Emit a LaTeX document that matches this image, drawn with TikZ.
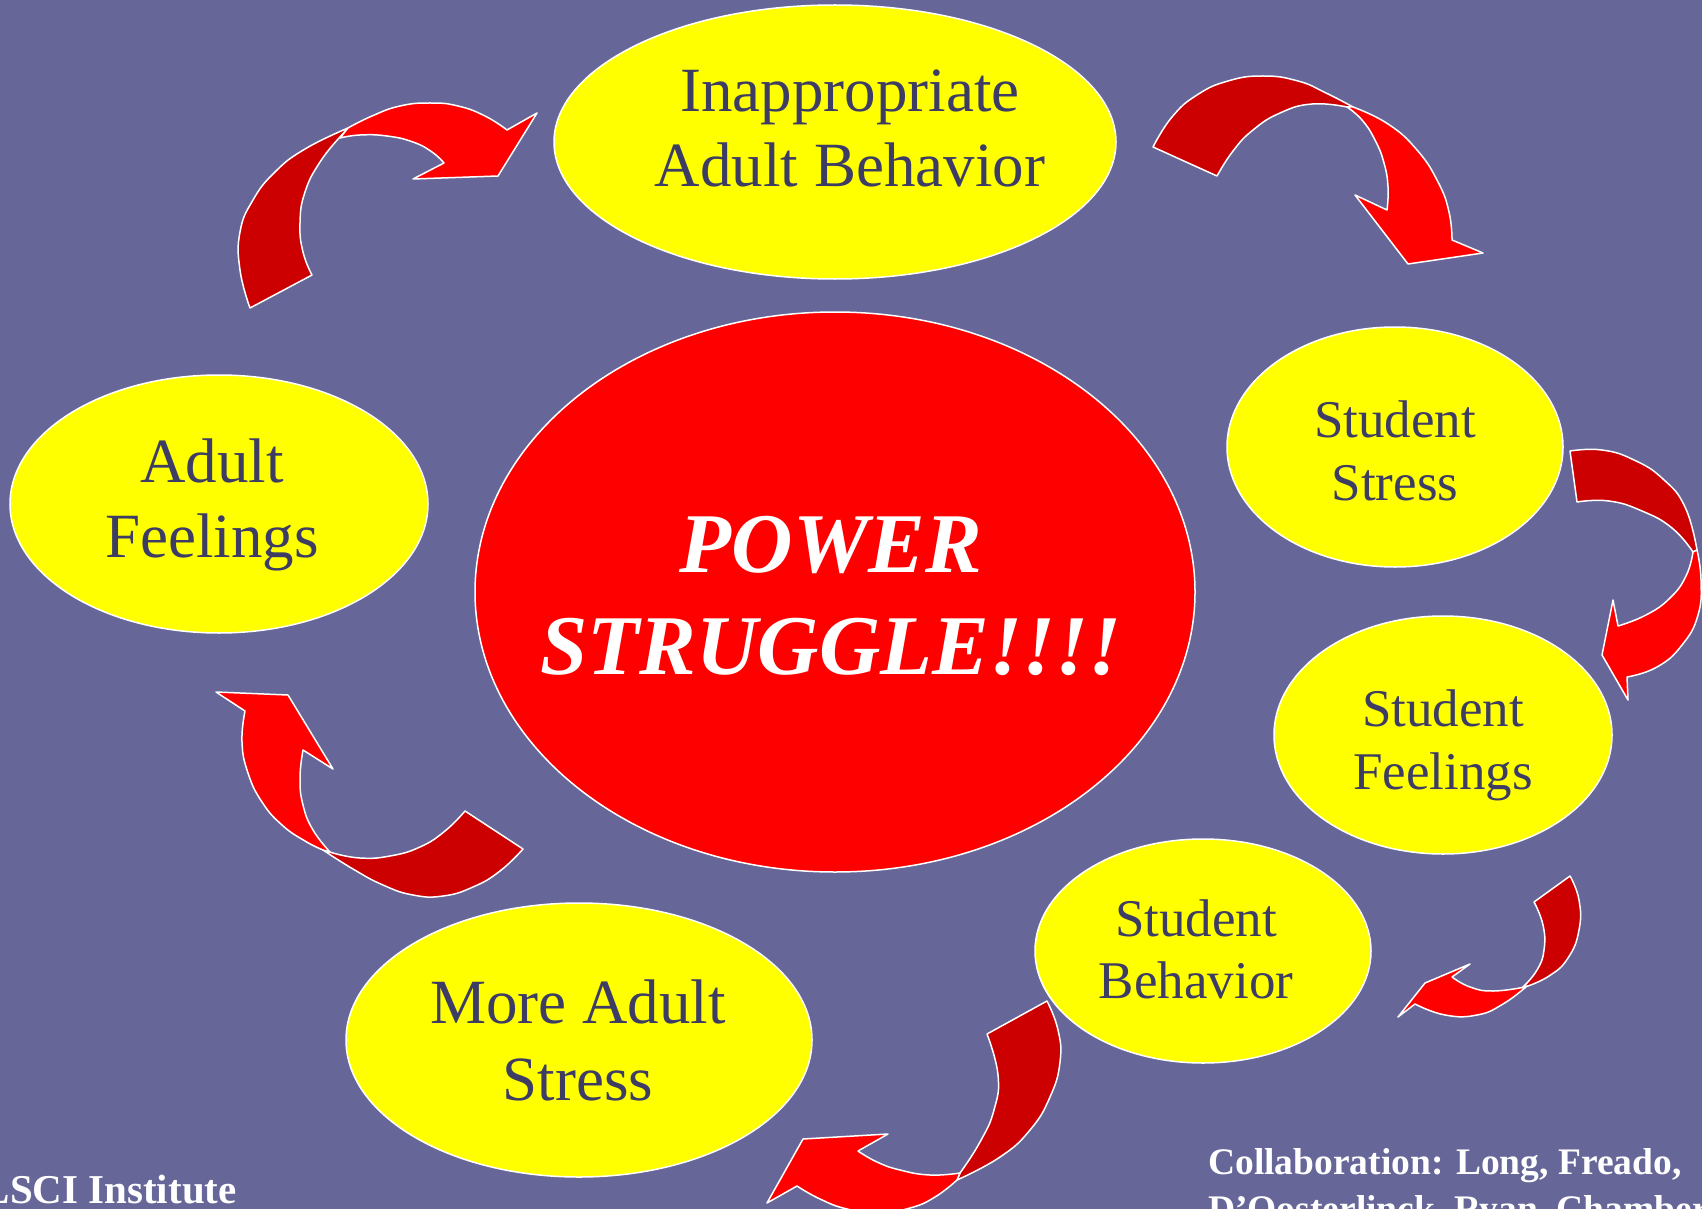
\documentclass[tikz,border=0pt]{standalone}
\usepackage{fontspec}
\setmainfont{Liberation Serif}
\usetikzlibrary{shapes.geometric}
\definecolor{bg}{RGB}{102,102,153}
\definecolor{txt}{RGB}{60,60,100}
\definecolor{darkred}{RGB}{204,0,0}
\definecolor{brightred}{RGB}{255,0,0}
\definecolor{yel}{RGB}{255,255,0}
\tikzset{
  bubble/.style={ellipse, fill=yel, draw=white, line width=1.5, inner sep=0pt},
  hub/.style={ellipse, fill=brightred, draw=white, line width=1.5, inner sep=0pt},
  bigtxt/.style={anchor=base, inner sep=0pt, text=txt, font=\fontsize{63}{76}\selectfont},
  smalltxt/.style={anchor=base, inner sep=0pt, text=txt, font=\fontsize{53}{63}\selectfont},
  hubtxt/.style={anchor=base, inner sep=0pt, text=white, font=\fontsize{85}{102}\selectfont\bfseries\itshape},
  credit/.style={anchor=base west, inner sep=0pt, text=white, font=\fontsize{37.5}{47}\selectfont\bfseries},
  arrowfront/.style={fill=brightred, draw=white, line width=1.5, line join=round},
  arrowback/.style={fill=darkred, draw=white, line width=1.5, line join=round},
  sm/.style={smooth, tension=0.8}
}
\begin{document}
\begin{tikzpicture}[x=1pt,y=-1pt]
\useasboundingbox (0,0) rectangle (1702,1209);
\clip (0,0) rectangle (1702,1209);
\fill[bg] (0,0) rectangle (1702,1209);

% ellipses
\node[bubble, minimum width=562, minimum height=274] (iab) at (835,142) {};
\node[bubble, minimum width=336, minimum height=240] (sst) at (1395,447) {};
\node[bubble, minimum width=338, minimum height=238] (sfe) at (1443,735) {};
\node[bubble, minimum width=336, minimum height=224] (sbe) at (1203,951) {};
\node[bubble, minimum width=466, minimum height=274] (mas) at (579,1040) {};
\node[bubble, minimum width=418, minimum height=258] (afe) at (219,504) {};
\node[hub, minimum width=720, minimum height=560] (ps) at (835,592) {};

% texts
\node[bigtxt] (t1a) at (850,112) {Inappropriate};
\node[bigtxt] (t1b) at (850,187) {Adult Behavior};
\node[smalltxt] (t2a) at (1395,437) {Student};
\node[smalltxt] (t2b) at (1395,500) {Stress};
\node[smalltxt] (t3a) at (1443,726) {Student};
\node[smalltxt] (t3b) at (1443,789) {Feelings};
\node[smalltxt] (t4a) at (1196,936) {Student};
\node[smalltxt] (t4b) at (1196,998) {Behavior};
\node[bigtxt] (t5a) at (578,1023) {More Adult};
\node[bigtxt] (t5b) at (578,1100) {Stress};
\node[bigtxt] (t6a) at (212,482) {Adult};
\node[bigtxt] (t6b) at (212,557) {Feelings};
\node[hubtxt] (t7a) at (831,572) {POWER};
\node[hubtxt] (t7b) at (831,674) {STRUGGLE!!!!};
\node[credit, font=\fontsize{41}{47}\selectfont\bfseries] (lsci) at (-17.5,1203) {LSCI Institute};
\node[credit] (col1) at (1208,1174) {Collaboration: Long, Freado,};
\node[credit] (col2) at (1208,1221) {D’Oosterlinck, Ryan, Chambers};

% arrow 1 (Adult Feelings -> Inappropriate Adult Behavior)
\path[arrowback] plot[sm] coordinates {(250,308) (240,270) (240,232) (253,200) (275,172) (305,149) (348,128)}
  -- plot[sm] coordinates {(340,137) (320,162) (305,192) (300,223) (303,252) (312,275)} -- cycle;
\path[arrowfront] plot[sm] coordinates {(340,138) (360,135) (387,136) (413,142) (432,152) (444,163)}
  -- (413,179) -- (498,176) -- (537,113)
  -- plot[sm] coordinates {(507,130) (485,116) (458,106) (430,103) (400,106) (372,116) (348,128)} -- cycle;

% arrow 2 (Inappropriate -> Student Stress)
\path[arrowback] plot[sm] coordinates {(1153,147) (1172,117) (1197,95) (1228,81) (1263,76) (1298,81) (1326,93) (1353,107)}
  -- plot[sm] coordinates {(1347,107) (1312,104) (1280,113) (1253,130) (1233,151) (1217,176)} -- cycle;
\path[arrowfront] plot[sm] coordinates {(1347,107) (1362,120) (1375,140) (1384,163) (1388,187) (1387,210)}
  -- (1355,195) -- (1408,264) -- (1483,253)
  -- plot[sm] coordinates {(1452,240) (1449,212) (1438,182) (1417,150) (1388,124) (1353,107)} -- cycle;

% arrow 3 (Student Stress -> Student Feelings)
\path[arrowback] plot[sm] coordinates {(1570,451) (1602,450) (1634,460) (1663,479) (1685,507) (1697,550)}
  -- plot[sm] coordinates {(1693,552) (1672,528) (1642,511) (1609,501) (1577,502)} -- cycle;
\path[arrowfront] plot[sm] coordinates {(1693,552) (1686,576) (1670,598) (1646,615) (1618,626)}
  -- (1613,600) -- (1602,655) -- (1628,700)
  -- plot[sm] coordinates {(1627,677) (1657,667) (1682,645) (1698,615) (1701,580) (1697,550)} -- cycle;

% arrow 4 (Student Feelings -> Student Behavior)
\path[arrowback] plot[sm] coordinates {(1570,876) (1579,900) (1579,930) (1568,958) (1549,976) (1525,987)}
  -- plot[sm] coordinates {(1523,987) (1537,970) (1544,950) (1543,925) (1534,902)} -- cycle;
\path[arrowfront] plot[sm] coordinates {(1525,987) (1493,991) (1470,987) (1452,977)}
  -- (1470,964) -- (1425,983) -- (1398,1017)
  -- plot[sm] coordinates {(1415,1004) (1445,1015) (1477,1015) (1503,1004) (1527,986)} -- cycle;

% arrow 5 (Student Behavior -> More Adult Stress)
\path[arrowback] plot[sm] coordinates {(1047,1001) (1058,1030) (1060,1062) (1050,1097) (1030,1130) (1000,1157) (957,1180)}
  -- plot[sm] coordinates {(960,1173) (980,1142) (994,1110) (998,1075) (987,1034)} -- cycle;
\path[arrowfront] plot[sm] coordinates {(960,1173) (930,1175) (900,1170) (877,1162) (858,1151)}
  -- (888,1134) -- (803,1139) -- (767,1203)
  -- plot[sm] coordinates {(797,1186) (820,1199) (847,1209) (878,1213) (910,1208) (935,1197) (957,1180)} -- cycle;

% arrow 6 (More Adult Stress -> Adult Feelings)
\path[arrowback] plot[sm] coordinates {(323,850) (353,869) (383,885) (413,895) (443,896) (473,887) (500,871) (523,849)}
  -- plot[sm] coordinates {(465,811) (445,831) (420,847) (390,856) (360,858) (333,853)} -- cycle;
\path[arrowfront] plot[sm] coordinates {(330,852) (313,830) (303,805) (300,778) (303,750)}
  -- (333,769) -- (288,695) -- (216,692)
  -- plot[sm] coordinates {(245,711) (242,742) (248,773) (262,802) (282,825) (305,841) (323,850)} -- cycle;
\end{tikzpicture}
\end{document}
